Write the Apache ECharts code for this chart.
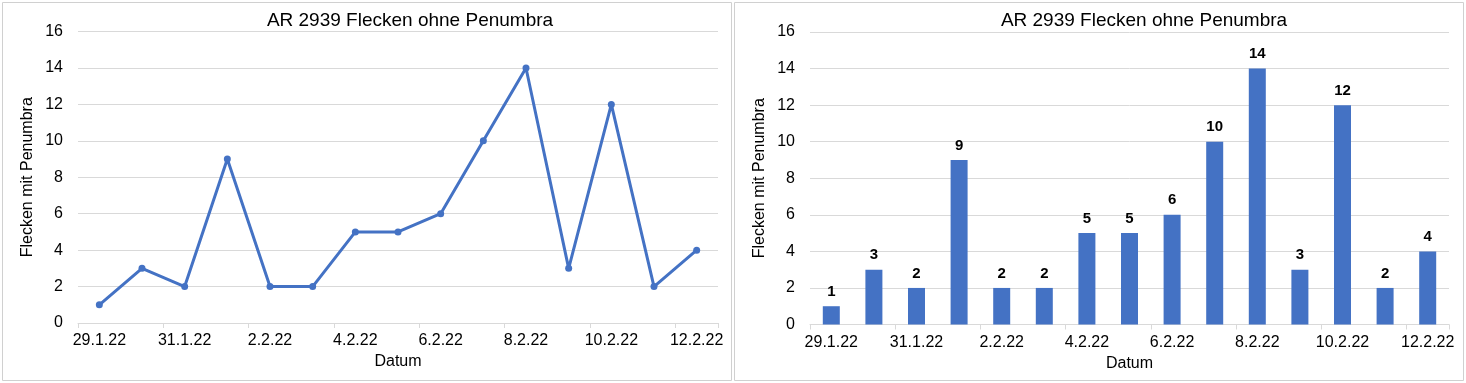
<!DOCTYPE html>
<html>
<head>
<meta charset="utf-8">
<script src="https://cdn.jsdelivr.net/npm/echarts@6/dist/echarts.min.js"></script>
<style>
html,body{margin:0;padding:0;background:#fff;}
#c{width:1466px;height:383px;}
</style>
</head>
<body>
<div id="c"></div>
<script>
const categories = ['29.1.22','30.1.22','31.1.22','1.2.22','2.2.22','3.2.22','4.2.22','5.2.22','6.2.22','7.2.22','8.2.22','9.2.22','10.2.22','11.2.22','12.2.22'];
const lineValues = [1,3,2,9,2,2,5,5,6,10,14,3,12,2,4];
const barValues = [1,3,2,9,2,2,5,5,6,10,14,3,12,2,4];
const titleText = 'AR 2939 Flecken ohne Penumbra';
const yAxisName = 'Flecken mit Penumbra';
const xAxisName = 'Datum';

const FONT = 'Liberation Sans, Arial, sans-serif';
const BLUE = '#4472C4';
const chart = echarts.init(document.getElementById('c'));

function xAxis(gridIndex){
  return {
    type:'category', gridIndex, data:categories, boundaryGap:true,
    name:xAxisName, nameLocation:'middle', nameGap:30,
    nameTextStyle:{color:'#000',fontSize:16,fontFamily:FONT},
    axisLine:{lineStyle:{color:'#d9d9d9',width:1}},
    axisTick:{show:true,interval:1,length:5,lineStyle:{color:'#d9d9d9'}},
    axisLabel:{interval:1,color:'#000',fontSize:16,fontFamily:FONT,margin:10},
    splitLine:{show:false}
  };
}
function yAxis(gridIndex){
  return {
    type:'value', gridIndex, min:0, max:16, interval:2,
    name:yAxisName, nameLocation:'middle', nameGap:42,
    nameTextStyle:{color:'#000',fontSize:16,fontFamily:FONT},
    axisLine:{show:false}, axisTick:{show:false},
    axisLabel:{color:'#000',fontSize:16,fontFamily:FONT,margin:15},
    splitLine:{lineStyle:{color:'#d9d9d9',width:1}}
  };
}

chart.setOption({
  animation:false,
  backgroundColor:'#fff',
  title:[
    {text:titleText,left:405,top:6,textAlign:'center',textStyle:{fontSize:19,fontWeight:'normal',color:'#000',fontFamily:FONT}},
    {text:titleText,left:1139,top:6,textAlign:'center',textStyle:{fontSize:19,fontWeight:'normal',color:'#000',fontFamily:FONT}}
  ],
  grid:[
    {left:78,right:748,top:31.5,bottom:60,containLabel:false},
    {left:810,right:17,top:32,bottom:58.5,containLabel:false}
  ],
  xAxis:[xAxis(0),xAxis(1)],
  yAxis:[yAxis(0),yAxis(1)],
  graphic:[
    {type:'rect',shape:{x:2.5,y:2.5,width:729,height:378},style:{fill:null,stroke:'#d0d0d0',lineWidth:1},z:-1},
    {type:'rect',shape:{x:734.5,y:2.5,width:729,height:378},style:{fill:null,stroke:'#d0d0d0',lineWidth:1},z:-1}
  ],
  series:[
    {type:'line',xAxisIndex:0,yAxisIndex:0,data:lineValues,
     lineStyle:{color:BLUE,width:3},itemStyle:{color:BLUE},
     symbol:'circle',symbolSize:7,showAllSymbol:true},
    {type:'bar',xAxisIndex:1,yAxisIndex:1,data:barValues,barWidth:17,
     itemStyle:{color:BLUE},
     label:{show:true,position:'top',distance:7,color:'#000',fontWeight:'bold',fontSize:15,fontFamily:FONT}}
  ]
});
</script>
</body>
</html>
